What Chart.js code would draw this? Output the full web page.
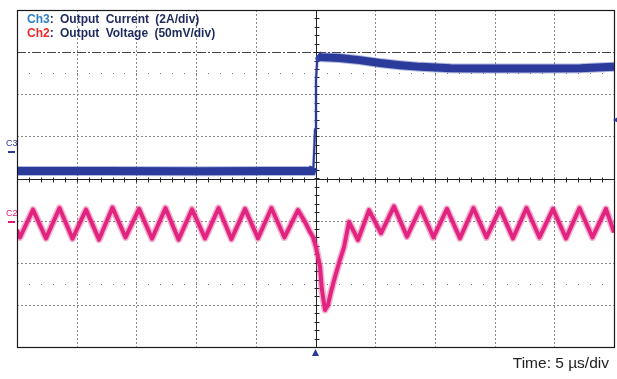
<!DOCTYPE html>
<html>
<head>
<meta charset="utf-8">
<script src="https://cdn.jsdelivr.net/npm/chart.js@4/dist/chart.umd.min.js"></script>
<style>
  html, body { margin: 0; padding: 0; background: #fff; }
  #wrap { position: relative; width: 617px; height: 379px; overflow: hidden; }
  canvas { position: absolute; left: 0; top: 0; }
  .lbl { position: absolute; font-family: "Liberation Sans", Arial, sans-serif; white-space: nowrap; }
  .leg { font-weight: bold; font-size: 12px; color: #1e2a5e; word-spacing: 3px; }
  .c3 { color: #2a7fc8; }
  .c2 { color: #ee2b2b; }
  .chm { font-size: 9px; }
</style>
</head>
<body>
<div id="wrap">
  <canvas id="c" width="617" height="379"></canvas>
  <div class="lbl leg" style="left:27px; top:12px;"><span class="c3">Ch3</span>: Output Current (2A/div)</div>
  <div class="lbl leg" style="left:27px; top:26px;"><span class="c2">Ch2</span>: Output Voltage (50mV/div)</div>
  <div class="lbl chm" style="left:6px; top:138px; color:#2b3a9a;">C3</div>
  <div class="lbl chm" style="left:6px; top:208px; color:#e0157a;">C2</div>
  <div class="lbl" style="right:8px; top:354px; font-size:15.5px; color:#222;">Time: 5 µs/div</div>
</div>
<script>
// ---- time base (µs) and graticule (divisions) ----
const xTicks = [-25, -20, -15, -10, -5, 0, 5, 10, 15, 20, 25];
const yTicks = [-4, -3, -2, -1, 0, 1, 2, 3, 4];

// ---- Ch3: output current, in screen divisions (2 A/div) ----
const ch3Time = [-25, -18, -10, -4, -0.3, -0.17, -0.04, 0.04, 0.17, 0.4, 2.0, 3.7, 5.4, 7.1, 8.8, 11.3, 13.8, 18.8, 22.2, 25];
const ch3Div  = [0.18, 0.18, 0.17, 0.18, 0.18, 0.27, 1.15, 2.34, 2.93, 2.88, 2.86, 2.81, 2.74, 2.69, 2.65, 2.62, 2.61, 2.61, 2.62, 2.65];

// ---- Ch2: output voltage, in screen divisions (50 mV/div) ----
const ch2Time = [-25.0, -24.75, -23.66, -22.57, -21.44, -20.35, -19.22, -18.13, -17.00, -15.91, -14.78, -13.69, -12.56, -11.47, -10.34, -9.25, -8.12, -7.04, -5.90, -4.82, -3.69, -2.60, -1.47,
  -0.88, -0.46, -0.21, 0.04, 0.38, 0.54, 0.80, 1.05, 1.30, 1.63, 2.05, 2.39, 2.81, 3.56,
  4.48, 5.49, 6.57, 7.66, 8.79, 9.88, 11.01, 12.10, 13.23, 14.32, 15.45, 16.54, 17.67, 18.76, 19.89, 20.98, 22.11, 23.20, 24.33, 25.0];
const ch2Div = [-1.22, -1.40, -0.74, -1.42, -0.70, -1.43, -0.74, -1.45, -0.69, -1.40, -0.72, -1.43, -0.70, -1.45, -0.73, -1.42, -0.70, -1.44, -0.72, -1.42, -0.70, -1.40, -0.75,
  -1.03, -1.27, -1.39, -1.63, -2.10, -2.65, -3.12, -3.00, -2.69, -2.34, -1.93, -1.63, -1.03, -1.46,
  -0.75, -1.30, -0.66, -1.38, -0.70, -1.40, -0.72, -1.42, -0.70, -1.40, -0.72, -1.42, -0.70, -1.40, -0.72, -1.42, -0.70, -1.40, -0.72, -1.28];

// ---- marker levels (divisions) ----
const ch3Marker = 0.65;
const ch2Marker = -1.0;
const trigLevel = 1.39;
const cursorLevel = 3;

const toXY = (xs, ys) => xs.map((x, i) => ({ x: x, y: ys[i] }));
const steepWidth = (w) => (c) => {
  const dx = Math.abs(c.p1.x - c.p0.x), dy = Math.abs(c.p1.y - c.p0.y);
  return dy > 4 * dx ? w : undefined;
};

const graticule = {
  id: 'graticule',
  beforeDatasetsDraw(chart) {
    const { ctx, chartArea: a, scales: { x, y } } = chart;
    ctx.save();
    ctx.lineWidth = 1;
    ctx.strokeStyle = '#8a8a8a';
    ctx.setLineDash([2, 2]);
    xTicks.forEach(v => {
      if (v === xTicks[0] || v === xTicks[xTicks.length - 1] || v === 0) return;
      const px = Math.round(x.getPixelForValue(v)) + 0.5;
      ctx.beginPath(); ctx.moveTo(px, a.top); ctx.lineTo(px, a.bottom); ctx.stroke();
    });
    yTicks.forEach(v => {
      if (v === yTicks[0] || v === yTicks[yTicks.length - 1] || v === 0 || v === cursorLevel) return;
      const py = Math.round(y.getPixelForValue(v)) + 0.5;
      ctx.beginPath(); ctx.moveTo(a.left, py); ctx.lineTo(a.right, py); ctx.stroke();
    });
    ctx.strokeStyle = '#444';
    ctx.setLineDash([9, 2, 2, 2]);
    let py = Math.round(y.getPixelForValue(cursorLevel)) + 0.5;
    ctx.beginPath(); ctx.moveTo(a.left, py); ctx.lineTo(a.right, py); ctx.stroke();
    ctx.setLineDash([]);
    ctx.fillStyle = '#777';
    [2.5, -2.5].forEach(v => {
      const ry = Math.round(y.getPixelForValue(v));
      for (let t = -25 + 1; t < 25; t += 1) {
        const rx = Math.round(x.getPixelForValue(t));
        ctx.fillRect(rx, ry, 1, 1);
      }
    });
    ctx.strokeStyle = '#222';
    const cx = Math.round(x.getPixelForValue(0)) + 0.5;
    const cy = Math.round(y.getPixelForValue(0)) + 0.5;
    ctx.beginPath(); ctx.moveTo(cx, a.top); ctx.lineTo(cx, a.bottom); ctx.stroke();
    ctx.beginPath(); ctx.moveTo(a.left, cy); ctx.lineTo(a.right, cy); ctx.stroke();
    for (let t = -25 + 1; t < 25; t += 1) {
      const tx = Math.round(x.getPixelForValue(t)) + 0.5;
      ctx.beginPath(); ctx.moveTo(tx, cy - 2); ctx.lineTo(tx, cy + 3); ctx.stroke();
    }
    for (let d = -4 + 0.2; d < 4; d += 0.2) {
      const ty = Math.round(y.getPixelForValue(d)) + 0.5;
      ctx.beginPath(); ctx.moveTo(cx - 2, ty); ctx.lineTo(cx + 3, ty); ctx.stroke();
    }
    ctx.restore();
  },
  afterDraw(chart) {
    const { ctx, chartArea: a, scales: { x, y } } = chart;
    ctx.save();
    ctx.strokeStyle = '#1a1a1a';
    ctx.lineWidth = 1.2;
    ctx.strokeRect(Math.round(a.left) + 0.5, Math.round(a.top) + 0.5, Math.round(a.right - a.left), Math.round(a.bottom - a.top));
    let my = Math.round(y.getPixelForValue(ch3Marker));
    ctx.fillStyle = '#2b3a9a';
    ctx.fillRect(a.left - 9, my, 7, 2);
    my = Math.round(y.getPixelForValue(ch2Marker));
    ctx.fillStyle = '#e0157a';
    ctx.fillRect(a.left - 9, my, 7, 2);
    const ty = y.getPixelForValue(trigLevel);
    ctx.fillStyle = '#2b3a9a';
    ctx.beginPath(); ctx.moveTo(a.right - 1, ty); ctx.lineTo(a.right + 4, ty - 3); ctx.lineTo(a.right + 4, ty + 3); ctx.closePath(); ctx.fill();
    const tx = x.getPixelForValue(0);
    ctx.beginPath(); ctx.moveTo(tx, a.bottom + 2); ctx.lineTo(tx - 3.5, a.bottom + 9); ctx.lineTo(tx + 3.5, a.bottom + 9); ctx.closePath(); ctx.fill();
    ctx.restore();
  }
};

new Chart(document.getElementById('c'), {
  type: 'line',
  data: {
    datasets: [
      { label: 'Ch3 halo', data: toXY(ch3Time, ch3Div), borderColor: 'rgba(60,80,175,0.4)', borderWidth: 10, pointRadius: 0, tension: 0, borderJoinStyle: 'miter', segment: { borderWidth: steepWidth(3) } },
      { label: 'Ch3', data: toXY(ch3Time, ch3Div), borderColor: '#1f2e8e', borderWidth: 8, pointRadius: 0, tension: 0, borderJoinStyle: 'miter', segment: { borderWidth: steepWidth(2) } },
      { label: 'Ch2 halo', data: toXY(ch2Time, ch2Div), borderColor: 'rgba(230,60,140,0.4)', borderWidth: 7, pointRadius: 0, tension: 0, borderJoinStyle: 'round' },
      { label: 'Ch2', data: toXY(ch2Time, ch2Div), borderColor: '#e0157a', borderWidth: 4, pointRadius: 0, tension: 0, borderJoinStyle: 'round' }
    ]
  },
  options: {
    responsive: false,
    animation: false,
    events: [],
    layout: { padding: { left: 17, top: 10, right: 3, bottom: 32 } },
    plugins: { legend: { display: false }, tooltip: { enabled: false }, title: { display: false } },
    scales: {
      x: { type: 'linear', min: -25, max: 25, display: false },
      y: { type: 'linear', min: -4, max: 4, display: false }
    }
  },
  plugins: [graticule]
});
</script>
</body>
</html>
